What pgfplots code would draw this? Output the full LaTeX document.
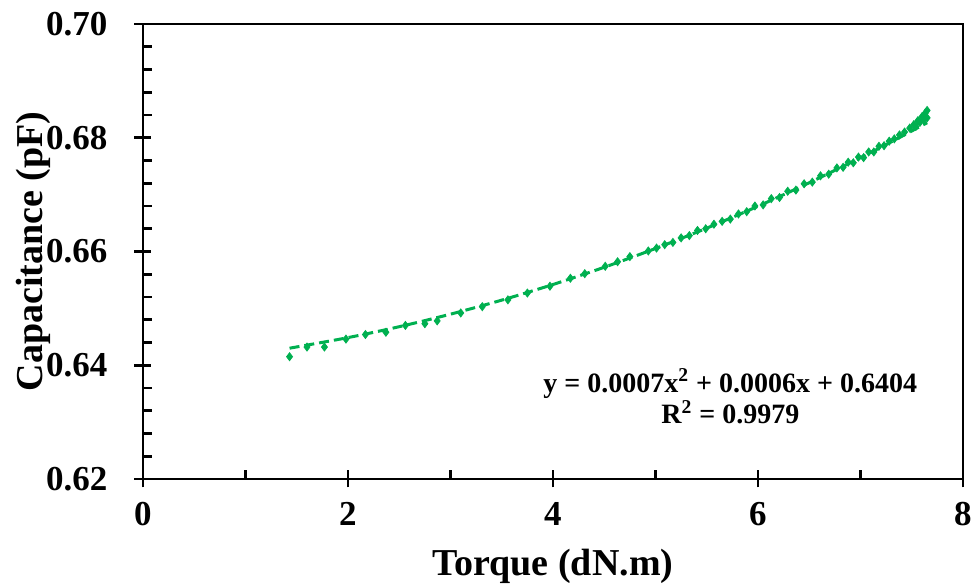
\documentclass[border=0pt]{standalone}
\usepackage{pgfplots}
\pgfplotsset{compat=1.18}
\usepackage{fontspec}
\setmainfont{Liberation Serif}
\definecolor{exgreen}{RGB}{0,176,80}
\begin{document}
\begin{tikzpicture}[x=1pt,y=1pt]
\path[use as bounding box] (-71.5,-54.5) rectangle (416.5,239.5);
\begin{axis}[
  at={(0,0)}, anchor=origin,
  scale only axis, width=410pt, height=227.5pt,
  xmin=0, xmax=8, ymin=0.62, ymax=0.70,
  xtick={0,2,4,6,8}, ytick={0.62,0.64,0.66,0.68,0.70},
  minor x tick num=1, minor y tick num=4,
  xtick pos=bottom, ytick pos=left,
  tick align=center,
  major tick length=8.5pt,
  minor tick length=4.5pt,
  minor y tick style={xshift=2.25pt},
  minor x tick style={yshift=2.25pt},
  axis line style={line width=1.3pt, black},
  every tick/.append style={line width=1.3pt, black},
  /pgf/number format/assume math mode=true,
  yticklabel style={/pgf/number format/fixed, /pgf/number format/fixed zerofill, /pgf/number format/precision=2},
  ticklabel style={font=\bfseries\fontsize{17.5}{17.5}\selectfont},
  xticklabel style={yshift=-4pt},
  yticklabel style={xshift=-10pt},
  xlabel={Torque (dN.m)},
  ylabel={Capacitance (pF)},
  label style={font=\bfseries\fontsize{19}{19}\selectfont},
  xlabel style={at={(axis description cs:0.5,-0.193)}, anchor=center},
  ylabel style={at={(axis description cs:-0.134,0.5)}, anchor=center},
]
% trendline (polynomial)
\addplot[exgreen, line width=1.5pt, dash pattern=on 5pt off 2.5pt, smooth, no marks] coordinates {
(1.43,0.64300) (2.0,0.64486) (2.5,0.64678) (3.0,0.64898) (3.5,0.65145)
(4.0,0.65420) (4.5,0.65723) (5.0,0.66053) (5.5,0.66411) (6.0,0.66796)
(6.5,0.67209) (7.0,0.67650) (7.3,0.67927) (7.65,0.68264)
};
% measured data
\addplot[only marks, mark=diamond*, mark size=2pt, exgreen, mark options={fill=exgreen, draw=exgreen}] coordinates {
(1.43,0.6415) (1.60,0.6432) (1.77,0.6432) (1.98,0.6446) (2.17,0.6454)
(2.37,0.6458) (2.56,0.6470) (2.75,0.6473) (2.87,0.6478) (3.10,0.6492)
(3.31,0.6503) (3.56,0.6515) (3.75,0.6527) (3.97,0.6539) (4.17,0.6553)
(4.31,0.6561) (4.51,0.6574) (4.63,0.6582) (4.75,0.6591) (4.93,0.6601)
(5.01,0.6606) (5.09,0.6612) (5.17,0.6616) (5.25,0.6624) (5.33,0.6628)
(5.41,0.6637) (5.49,0.6640) (5.57,0.6648) (5.65,0.6653) (5.73,0.6657)
(5.81,0.6666) (5.89,0.6670) (5.97,0.6680) (6.05,0.6682) (6.13,0.6693)
(6.21,0.6695) (6.29,0.6706) (6.37,0.6708) (6.45,0.6719) (6.53,0.6722)
(6.61,0.6733) (6.69,0.6736) (6.77,0.6747) (6.83,0.6748) (6.88,0.6757)
(6.93,0.6756) (6.98,0.6766) (7.03,0.6765) (7.08,0.6775) (7.13,0.6775)
(7.18,0.6785) (7.23,0.6786) (7.28,0.6794) (7.33,0.6798) (7.38,0.6805)
(7.43,0.6810) (7.48,0.6817) (7.52,0.6823) (7.56,0.6830) (7.60,0.6837)
(7.63,0.6843) (7.65,0.6848) (7.65,0.6835) (7.62,0.6832) (7.58,0.6827)
(7.54,0.6820)
};
\node[align=center, font=\bfseries\fontsize{14}{13.5}\selectfont] at (axis cs:5.73,0.6345)
  {y = 0.0007x$^{\mathbf{2}}$ + 0.0006x + 0.6404\\R\textsuperscript{2} = 0.9979};
\end{axis}
\end{tikzpicture}
\end{document}
